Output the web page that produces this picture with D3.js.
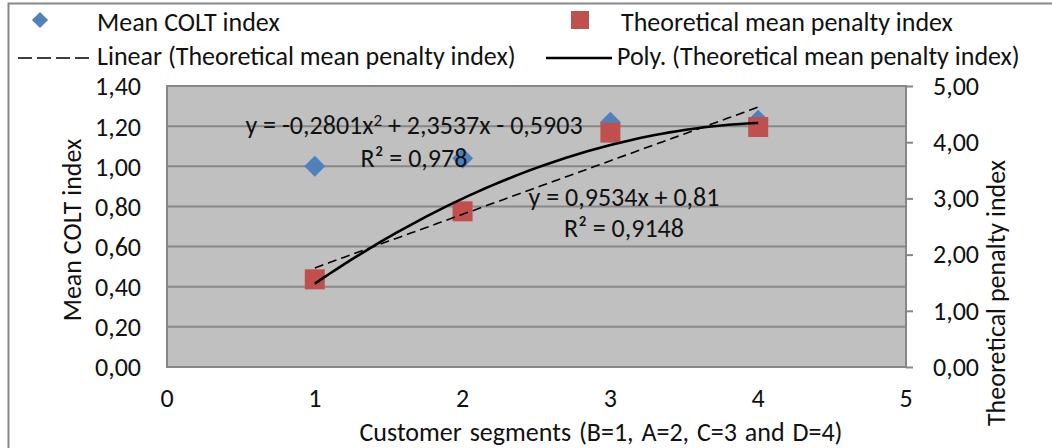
<!DOCTYPE html>
<html>
<head>
<meta charset="utf-8">
<script src="https://cdn.jsdelivr.net/npm/d3@7"></script>
<style>
body { margin: 0; background: white; }
svg text { font-family: "Carlito", "Lato", "Liberation Sans Narrow", sans-serif; fill: #111; }
</style>
</head>
<body>
<div id="chart"></div>
<script>
// values
var segments = [1, 2, 3, 4];
var coltIndex = [1.00, 1.04, 1.22, 1.23];
var penaltyIndex = [1.56, 2.77, 4.17, 4.27];
var xTicks = [0, 1, 2, 3, 4, 5];
var leftTicks = [0, 0.2, 0.4, 0.6, 0.8, 1.0, 1.2, 1.4];
var rightTicks = [0, 1, 2, 3, 4, 5];
// trendline coefficients (constant, x, x^2) as printed on the chart
var linCoef = [0.81, 0.9534];
var polyCoef = [-0.5903, 2.3537, -0.2801];
var linLabel = ["y = 0,9534x + 0,81", "R\u00b2 = 0,9148"];
var polyLabel = ["y = -0,2801x", "2", " + 2,3537x - 0,5903", "R\u00b2 = 0,978"];

var W = 1052, H = 448;
var plot = {left: 167, right: 906, top: 86, bottom: 367};
var fs = 26;

var loc = d3.formatLocale({decimal: ",", thousands: ".", grouping: [3], currency: ["", ""]});
var fmt2 = loc.format(".2f");

var svg = d3.select("#chart").append("svg").attr("width", W).attr("height", H);

// outer chart frame (right / bottom edges fall outside the picture)
svg.append("rect").attr("x", 8.5).attr("y", 3.5).attr("width", W + 10).attr("height", H + 10)
	.attr("fill", "white").attr("stroke", "#878787").attr("stroke-width", 2);

var x = d3.scaleLinear().domain([0, 5]).range([plot.left, plot.right]);
var yL = d3.scaleLinear().domain([0, 1.4]).range([plot.bottom, plot.top]);
var yR = d3.scaleLinear().domain([0, 5]).range([plot.bottom, plot.top]);

svg.append("rect").attr("x", plot.left).attr("y", plot.top)
	.attr("width", plot.right - plot.left).attr("height", plot.bottom - plot.top)
	.attr("fill", "#c0c0c0");

// gridlines
svg.selectAll("line.grid").data(leftTicks).enter().append("line")
	.attr("class", "grid")
	.attr("x1", plot.left).attr("x2", plot.right)
	.attr("y1", function (d) { return yL(d); })
	.attr("y2", function (d) { return yL(d); })
	.attr("stroke", "#878787").attr("stroke-width", 2);

// plot border
svg.append("rect").attr("x", plot.left).attr("y", plot.top)
	.attr("width", plot.right - plot.left).attr("height", plot.bottom - plot.top)
	.attr("fill", "none").attr("stroke", "#878787").attr("stroke-width", 2);

// left axis labels
svg.selectAll("text.yl").data(leftTicks).enter().append("text")
	.attr("class", "yl")
	.attr("x", 141).attr("y", function (d) { return yL(d); })
	.attr("dy", "0.36em").attr("text-anchor", "end").style("font-size", fs + "px")
	.text(function (d) { return fmt2(d); });

// right axis ticks + labels
var rAxis = d3.axisRight(yR).tickValues(rightTicks).tickSizeOuter(0).tickSizeInner(7).tickPadding(20)
	.tickFormat(fmt2);
var rg = svg.append("g").attr("transform", "translate(" + plot.right + ",0)").call(rAxis);
rg.select(".domain").remove();
rg.selectAll("line").attr("stroke", "#878787").attr("stroke-width", 2);
rg.selectAll("text").style("font-size", fs + "px").attr("fill", "#111")
	.style("font-family", "Carlito, Lato, sans-serif");

// x labels
svg.selectAll("text.xl").data(xTicks).enter().append("text")
	.attr("class", "xl")
	.attr("x", function (d) { return x(d); }).attr("y", 398)
	.attr("dy", "0.36em").attr("text-anchor", "middle").style("font-size", fs + "px")
	.text(function (d) { return d; });

// axis titles
svg.append("text").attr("x", 601).attr("y", 432).attr("dy", "0.36em")
	.attr("text-anchor", "middle").style("font-size", fs + "px").style("word-spacing", "2px")
	.text("Customer segments (B=1, A=2, C=3 and D=4)");
svg.append("text").attr("transform", "translate(72,230) rotate(-90)").attr("dy", "0.36em")
	.attr("text-anchor", "middle").style("font-size", fs + "px")
	.text("Mean COLT index");
svg.append("text").attr("transform", "translate(996,293) rotate(-90)").attr("dy", "0.36em")
	.attr("text-anchor", "middle").style("font-size", fs + "px")
	.text("Theoretical penalty index");

var diamond = d3.symbol().type(d3.symbolSquare).size(220);
var square = d3.symbol().type(d3.symbolSquare).size(400);

// blue diamonds (left axis)
svg.selectAll("path.colt").data(segments).enter().append("path")
	.attr("class", "colt")
	.attr("d", diamond)
	.attr("transform", function (d, i) { return "translate(" + x(d) + "," + yL(coltIndex[i]) + ") rotate(45)"; })
	.attr("fill", "#4f81bd");

// red squares (right axis)
svg.selectAll("path.pen").data(segments).enter().append("path")
	.attr("class", "pen")
	.attr("d", square)
	.attr("transform", function (d, i) { return "translate(" + x(d) + "," + yR(penaltyIndex[i]) + ")"; })
	.attr("fill", "#c0504d");

// trendlines over the penalty series
var xs = d3.range(segments[0], segments[segments.length - 1] + 0.001, 0.05);
var line = d3.line()
	.x(function (d) { return x(d[0]); })
	.y(function (d) { return yR(d[1]); });
var linPts = xs.map(function (v) { return [v, linCoef[0] + linCoef[1] * v]; });
var polyPts = xs.map(function (v) { return [v, polyCoef[0] + polyCoef[1] * v + polyCoef[2] * v * v]; });
svg.append("path").attr("d", line(linPts)).attr("fill", "none")
	.attr("stroke", "#000").attr("stroke-width", 1.6).attr("stroke-dasharray", "9,5");
svg.append("path").attr("d", line(polyPts)).attr("fill", "none")
	.attr("stroke", "#000").attr("stroke-width", 2.6);

// equations
var pe = svg.append("text").attr("x", 414).attr("y", 125).attr("dy", "0.36em").attr("text-anchor", "middle")
	.style("font-size", fs + "px");
pe.append("tspan").text(polyLabel[0]);
pe.append("tspan").attr("dy", -8).style("font-size", "17px").text(polyLabel[1]);
pe.append("tspan").attr("dy", 8).text(polyLabel[2]);
svg.append("text").attr("x", 414).attr("y", 158).attr("dy", "0.36em").attr("text-anchor", "middle")
	.style("font-size", fs + "px").text(polyLabel[3]);
svg.append("text").attr("x", 624).attr("y", 197).attr("dy", "0.36em").attr("text-anchor", "middle")
	.style("font-size", fs + "px").text(linLabel[0]);
svg.append("text").attr("x", 624).attr("y", 228).attr("dy", "0.36em").attr("text-anchor", "middle")
	.style("font-size", fs + "px").text(linLabel[1]);

// legend
var lg = svg.append("g");
lg.append("path").attr("d", d3.symbol().type(d3.symbolSquare).size(130))
	.attr("transform", "translate(40,20) rotate(45)").attr("fill", "#4f81bd");
lg.append("text").attr("x", 97).attr("y", 22).attr("dy", "0.36em").style("font-size", fs + "px").text("Mean COLT index");
lg.append("rect").attr("x", 571).attr("y", 11).attr("width", 18).attr("height", 18).attr("fill", "#c0504d");
lg.append("text").attr("x", 621).attr("y", 22).attr("dy", "0.36em").style("font-size", fs + "px").text("Theoretical mean penalty index");
lg.append("line").attr("x1", 18).attr("x2", 92).attr("y1", 58).attr("y2", 58)
	.attr("stroke", "#000").attr("stroke-width", 1.6).attr("stroke-dasharray", "14,5");
lg.append("text").attr("x", 97).attr("y", 56).attr("dy", "0.36em").style("font-size", fs + "px").text("Linear (Theoretical mean penalty index)");
lg.append("line").attr("x1", 546).attr("x2", 612).attr("y1", 58).attr("y2", 58)
	.attr("stroke", "#000").attr("stroke-width", 2.4);
lg.append("text").attr("x", 617).attr("y", 56).attr("dy", "0.36em").style("font-size", fs + "px").text("Poly. (Theoretical mean penalty index)");
</script>
</body>
</html>
